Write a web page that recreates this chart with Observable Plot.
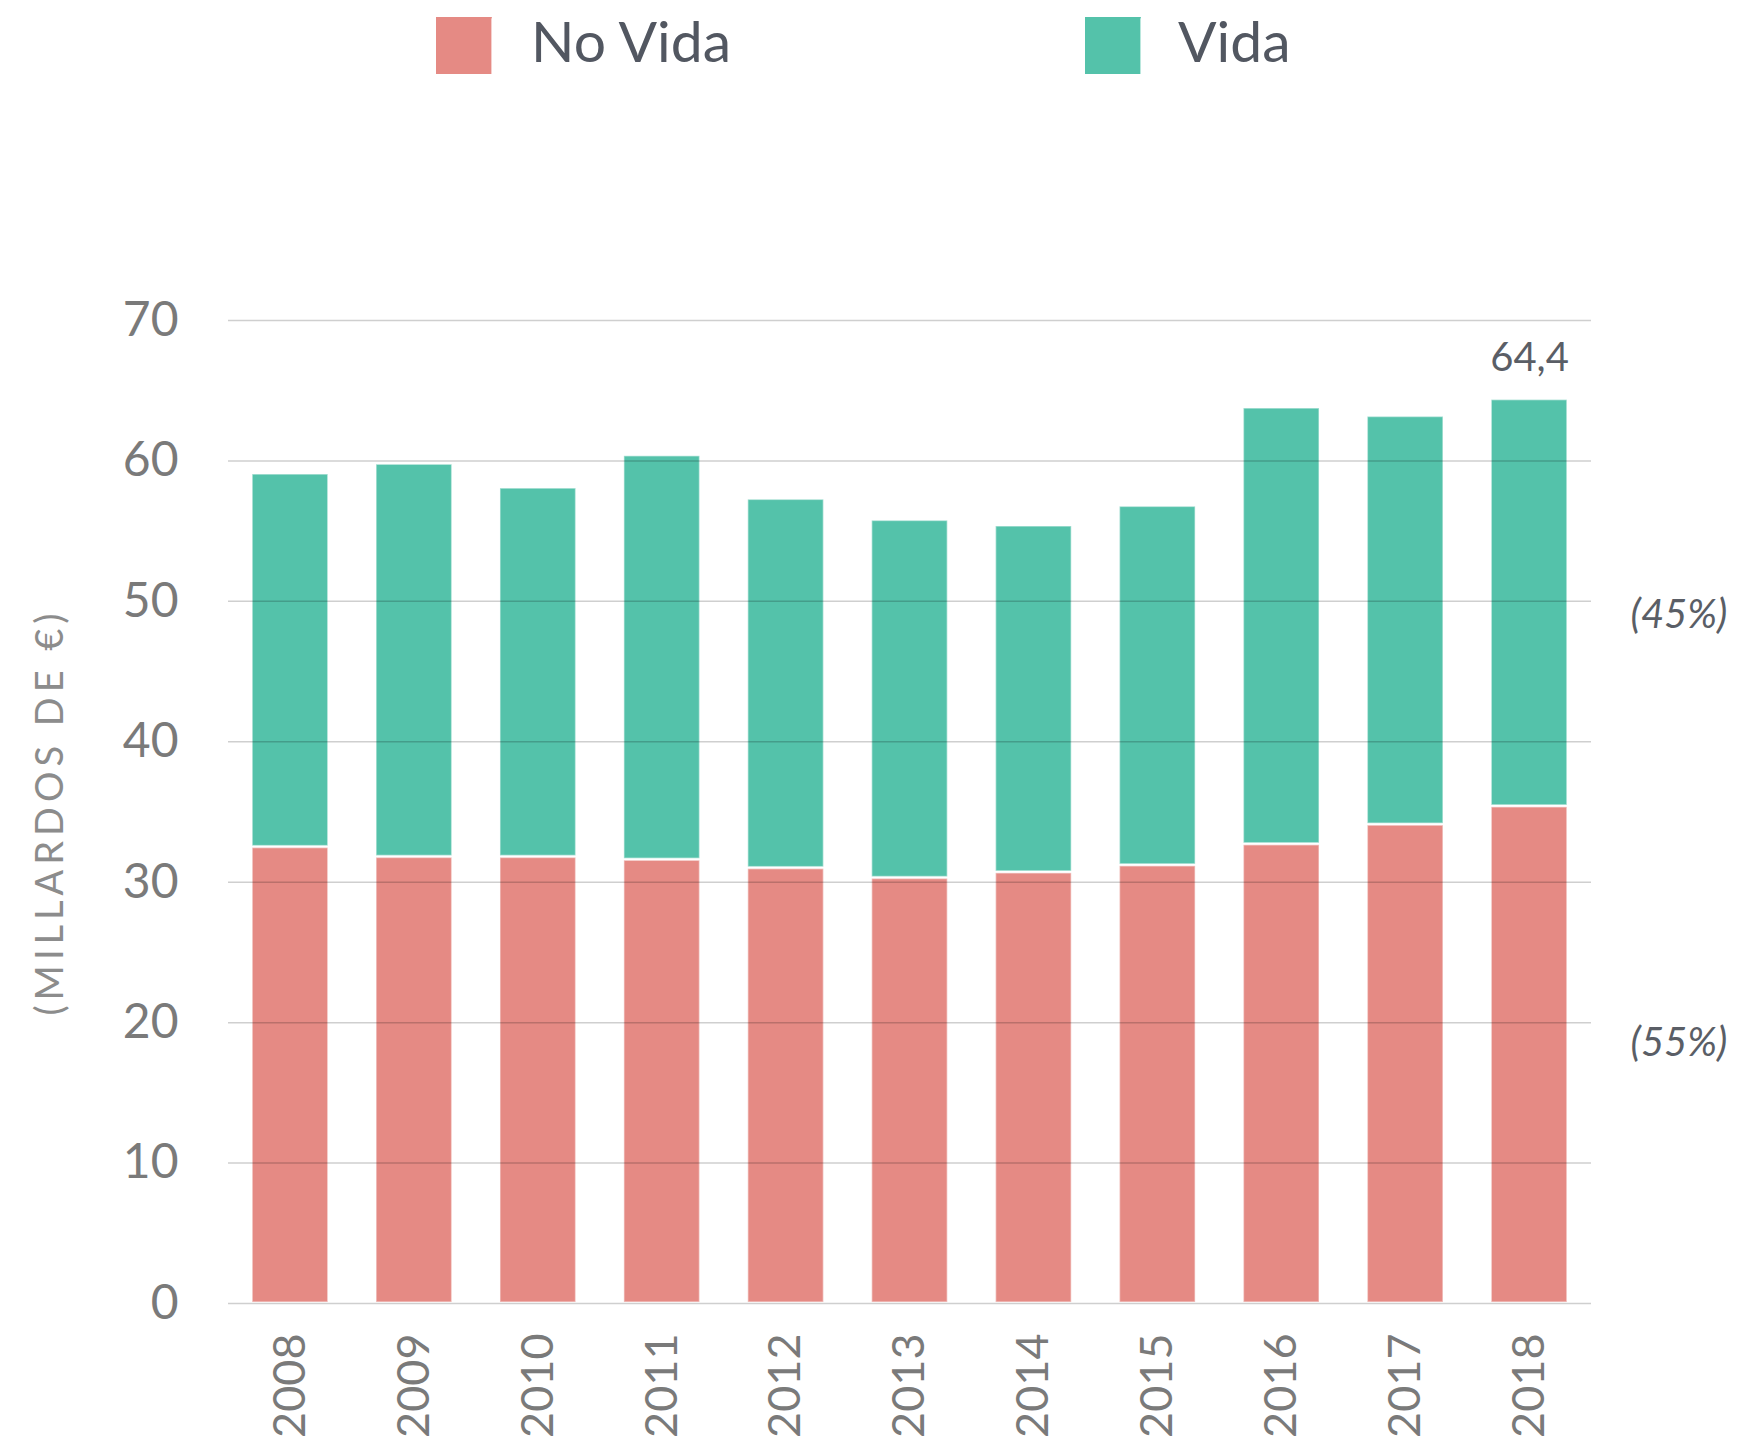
<!DOCTYPE html>
<html>
<head>
<meta charset="utf-8">
<script src="https://cdn.jsdelivr.net/npm/d3@7"></script>
<script src="https://cdn.jsdelivr.net/npm/@observablehq/plot@0.6"></script>
<style>
  html, body { margin: 0; padding: 0; background: #fff; }
  #wrap { width: 1742px; font-family: Lato, "Open Sans", sans-serif; }
  #legend { position: relative; height: 90px; width: 1742px; }
  .sw { position: absolute; top: 17px; width: 56px; height: 57px; box-sizing: border-box; }
  .lt { position: absolute; top: 5px; font-size: 57px; font-weight: 400; line-height: 70px; color: #525761; }
</style>
</head>
<body>
<div id="wrap">
  <div id="legend"></div>
  <div id="chart"></div>
</div>
<script>
const years = ["2008","2009","2010","2011","2012","2013","2014","2015","2016","2017","2018"];
const noVida = [32.5, 31.8, 31.8, 31.6, 31.0, 30.3, 30.7, 31.2, 32.7, 34.1, 35.4];
const vida   = [26.6, 28.0, 26.3, 28.8, 26.3, 25.5, 24.7, 25.6, 31.1, 29.1, 29.0];
const series = ["No Vida", "Vida"];
const colors = ["#e58a84", "#54c2aa"];
const yTicks = [0, 10, 20, 30, 40, 50, 60, 70];
const yLabel = "(MILLARDOS DE €)";

// legend
const legend = document.getElementById("legend");
const legendPos = [[436, 531], [1085, 1178]];
series.forEach((s, i) => {
  const sw = document.createElement("div");
  sw.className = "sw";
  sw.style.left = legendPos[i][0] + "px";
  sw.style.background = colors[i];
  sw.style.borderTop = "2px solid " + colors[i];
  sw.style.borderRight = "1px solid rgba(255,255,255,0.6)";
  legend.appendChild(sw);
  const t = document.createElement("div");
  t.className = "lt";
  t.style.left = legendPos[i][1] + "px";
  t.textContent = s;
  legend.appendChild(t);
});

const rows = [];
years.forEach((y, i) => {
  rows.push({year: y, serie: "No Vida", value: noVida[i]});
  rows.push({year: y, serie: "Vida", value: vida[i]});
});
const last = years.length - 1;
const total = noVida[last] + vida[last];
const fmt = v => v.toFixed(1).replace(".", ",");
const shareNoVida = [{year: years[last], y: noVida[last] / 2, text: "(" + Math.round(100 * noVida[last] / total) + "%)"}];
const shareVida = [{year: years[last], y: noVida[last] + vida[last] / 2, text: "(" + Math.round(100 * vida[last] / total) + "%)"}];
const shareStyle = {x: "year", y: "y", text: "text", textAnchor: "start", dx: 101,
  fontSize: 40, fontStyle: "italic", fill: "#5a5e66"};

const chart = Plot.plot({
  width: 1742,
  height: 1354,
  marginLeft: 228,
  marginRight: 151,
  marginTop: 230,
  marginBottom: 141,
  style: {fontFamily: "Lato, 'Open Sans', sans-serif", fontSize: "44px", background: "white", color: "#757575"},
  x: {domain: years, paddingInner: 0.39, paddingOuter: 0.195, round: false, label: null},
  y: {domain: [0, 70], label: null},
  color: {domain: series, range: colors},
  marks: [
    Plot.barY(rows, {x: "year", y: "value", fill: "serie", order: series,
      stroke: "white", strokeOpacity: 0.45, strokeWidth: 1.5, insetTop: 1, insetBottom: 1}),
    Plot.ruleY(yTicks, {stroke: "#000", strokeOpacity: 0.19, strokeWidth: 1.5}),
    Plot.axisY({ticks: yTicks, tickSize: 0, tickPadding: 50, fontSize: 48, fill: "#7a7a7a", label: null}),
    Plot.axisY({ticks: [], tickSize: 0, label: yLabel, labelArrow: "none", labelAnchor: "center", labelOffset: 192, fontSize: 38, fill: "#8c8c8c"}),
    Plot.axisX({tickSize: 0, tickPadding: 30, tickRotate: -90, fontSize: 45, fill: "#7a7a7a", label: null}),
    Plot.text([{year: years[last], total}], {x: "year", y: "total", text: d => fmt(d.total), dy: -41,
      fontSize: 40, fill: "#5a5e66"}),
    Plot.text(shareVida, {...shareStyle, dy: 12}),
    Plot.text(shareNoVida, {...shareStyle, dy: -12})
  ]
});
document.getElementById("chart").appendChild(chart);
chart.querySelectorAll("text").forEach(t => {
  if (t.textContent.indexOf("MILLARDOS") >= 0) {
    t.textContent = yLabel;
    t.style.letterSpacing = "5px";
  }
});
</script>
</body>
</html>
